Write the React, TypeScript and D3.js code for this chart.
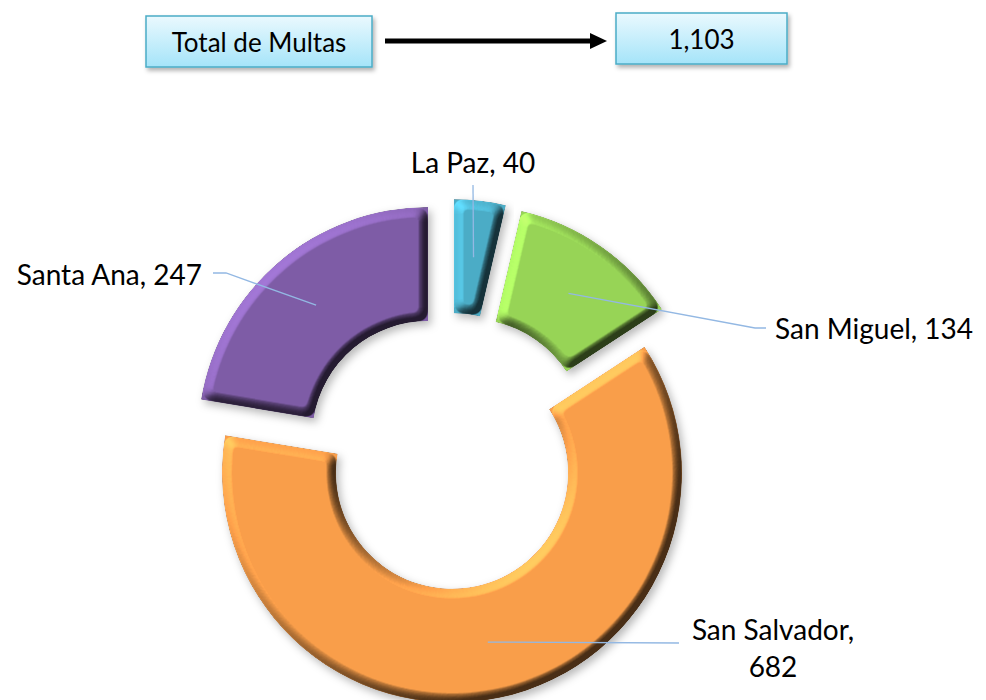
import * as d3 from "d3";
import { useEffect, useRef } from "react";

// data
const categories = ["La Paz", "San Miguel", "San Salvador", "Santa Ana"];
const values = [40, 134, 682, 247];
const totalLabel = "Total de Multas";

// styling / layout (kept apart from the data)
const colors = ["#4BACC6", "#97D456", "#F99E4A", "#7E5CA6"];
const explode = [34, 34, 10, 34];
const labelLayout = [
  { pts: [[473, 185]], tx: 473, ty: [173], anchor: "middle", text: (c, v) => [`${c}, ${v}`] },
  { pts: [[755, 328], [766, 328]], tx: 775, ty: [339], anchor: "start", text: (c, v) => [`${c}, ${v}`] },
  { pts: [[679, 643]], tx: 773, ty: [640, 677], anchor: "middle", text: (c, v) => [`${c},`, `${v}`] },
  { pts: [[226, 273], [213, 273]], tx: 202, ty: [285], anchor: "end", text: (c, v) => [`${c}, ${v}`] },
];

const FONT = "Lato, 'Open Sans', sans-serif";

export default function App() {
  const ref = useRef<HTMLDivElement>(null);

  useEffect(() => {
    const width = 986;
    const height = 700;
    const cx = 450;
    const cy = 463;
    const outerR = 230;
    const innerR = 116;

    d3.select(ref.current).select("svg").remove();

    const svg = d3
      .select(ref.current)
      .append("svg")
      .attr("width", width)
      .attr("height", height)
      .style("position", "absolute")
      .style("left", 0)
      .style("top", 0)
      .style("background", "#fff");

    const defs = svg.append("defs");

    // bevel + soft drop shadow
    const f = defs
      .append("filter")
      .attr("id", "bevel")
      .attr("x", "-15%")
      .attr("y", "-15%")
      .attr("width", "130%")
      .attr("height", "130%")
      .attr("color-interpolation-filters", "sRGB");
    f.append("feGaussianBlur").attr("in", "SourceAlpha").attr("stdDeviation", 6).attr("result", "blur");
    f.append("feComponentTransfer")
      .attr("in", "blur")
      .attr("result", "hgt")
      .append("feFuncA")
      .attr("type", "linear")
      .attr("slope", 2.2)
      .attr("intercept", -1.1);
    f.append("feDiffuseLighting")
      .attr("in", "hgt")
      .attr("surfaceScale", 5)
      .attr("diffuseConstant", 1)
      .attr("lighting-color", "#fff")
      .attr("result", "light")
      .append("feDistantLight")
      .attr("azimuth", 225)
      .attr("elevation", 45);
    // colour * (0.29 + 1.0 * light)  -> flat areas keep their colour
    f.append("feComposite")
      .attr("in", "SourceGraphic")
      .attr("in2", "light")
      .attr("operator", "arithmetic")
      .attr("k1", 1.0)
      .attr("k2", 0.293)
      .attr("k3", 0)
      .attr("k4", 0)
      .attr("result", "lit");
    f.append("feComposite").attr("in", "lit").attr("in2", "SourceAlpha").attr("operator", "in").attr("result", "litc");
    f.append("feGaussianBlur").attr("in", "SourceAlpha").attr("stdDeviation", 4).attr("result", "sb");
    f.append("feOffset").attr("in", "sb").attr("dx", 3).attr("dy", 4).attr("result", "so");
    f.append("feFlood").attr("flood-color", "#000").attr("flood-opacity", 0.28);
    f.append("feComposite").attr("in2", "so").attr("operator", "in").attr("result", "shadow");
    const m = f.append("feMerge");
    m.append("feMergeNode").attr("in", "shadow");
    m.append("feMergeNode").attr("in", "litc");

    // box gradient + shadow
    const g = defs.append("linearGradient").attr("id", "boxg").attr("x1", 0).attr("y1", 0).attr("x2", 0).attr("y2", 1);
    g.append("stop").attr("offset", "0%").attr("stop-color", "#EAF9FE");
    g.append("stop").attr("offset", "100%").attr("stop-color", "#A5E4F9");
    const bs = defs.append("filter").attr("id", "boxs").attr("x", "-10%").attr("y", "-20%").attr("width", "125%").attr("height", "150%");
    bs.append("feDropShadow").attr("dx", 2).attr("dy", 3).attr("stdDeviation", 2).attr("flood-color", "#000").attr("flood-opacity", 0.3);

    // header boxes
    const total = d3.sum(values);
    const boxes = [
      { x: 146, y: 16, w: 226, h: 51, text: totalLabel },
      { x: 616, y: 13, w: 171, h: 51, text: d3.format(",")(total) },
    ];
    const bg = svg.selectAll("g.box").data(boxes).enter().append("g").attr("class", "box");
    bg.append("rect")
      .attr("x", (d) => d.x)
      .attr("y", (d) => d.y)
      .attr("width", (d) => d.w)
      .attr("height", (d) => d.h)
      .attr("fill", "url(#boxg)")
      .attr("stroke", "#4BACC6")
      .attr("stroke-width", 1.5)
      .attr("filter", "url(#boxs)");
    bg.append("text")
      .attr("x", (d) => d.x + d.w / 2)
      .attr("y", (d) => d.y + 36)
      .attr("text-anchor", "middle")
      .attr("font-family", FONT)
      .attr("font-size", 26)
      .attr("fill", "#000")
      .text((d) => d.text);

    // arrow
    svg.append("line").attr("x1", 385).attr("y1", 41).attr("x2", 594).attr("y2", 41).attr("stroke", "#000").attr("stroke-width", 5);
    svg.append("path").attr("d", "M590,33 L607,41 L590,49 Z").attr("fill", "#000");

    // donut
    const pie = d3.pie<number>().sort(null).value((d) => d);
    const arcs = pie(values);
    const arc = d3.arc<d3.PieArcDatum<number>>().innerRadius(innerR).outerRadius(outerR);

    const offset = (d: d3.PieArcDatum<number>, i: number) => {
      const a = (d.startAngle + d.endAngle) / 2;
      return [cx + Math.sin(a) * explode[i], cy - Math.cos(a) * explode[i]];
    };

    svg
      .append("g")
      .selectAll("path")
      .data(arcs)
      .enter()
      .append("path")
      .attr("transform", (d, i) => `translate(${offset(d, i)})`)
      .attr("d", arc)
      .attr("fill", (d, i) => colors[i])
      .attr("filter", "url(#bevel)");

    // leader lines + labels
    const lab = svg.append("g");
    arcs.forEach((d, i) => {
      const [ox, oy] = offset(d, i);
      const [mx, my] = arc.centroid(d);
      const L = labelLayout[i];
      const pts = [[ox + mx, oy + my], ...L.pts];
      lab
        .append("path")
        .attr("d", d3.line()(pts as [number, number][]))
        .attr("fill", "none")
        .attr("stroke", "#93B8E3")
        .attr("stroke-width", 1.3);
      const lines = L.text(categories[i], values[i]);
      lines.forEach((t, k) => {
        lab
          .append("text")
          .attr("x", L.tx)
          .attr("y", L.ty[k])
          .attr("text-anchor", L.anchor)
          .attr("font-family", FONT)
          .attr("font-size", 28)
          .attr("fill", "#000")
          .text(t);
      });
    });
  }, []);

  return <div ref={ref}></div>;
}
